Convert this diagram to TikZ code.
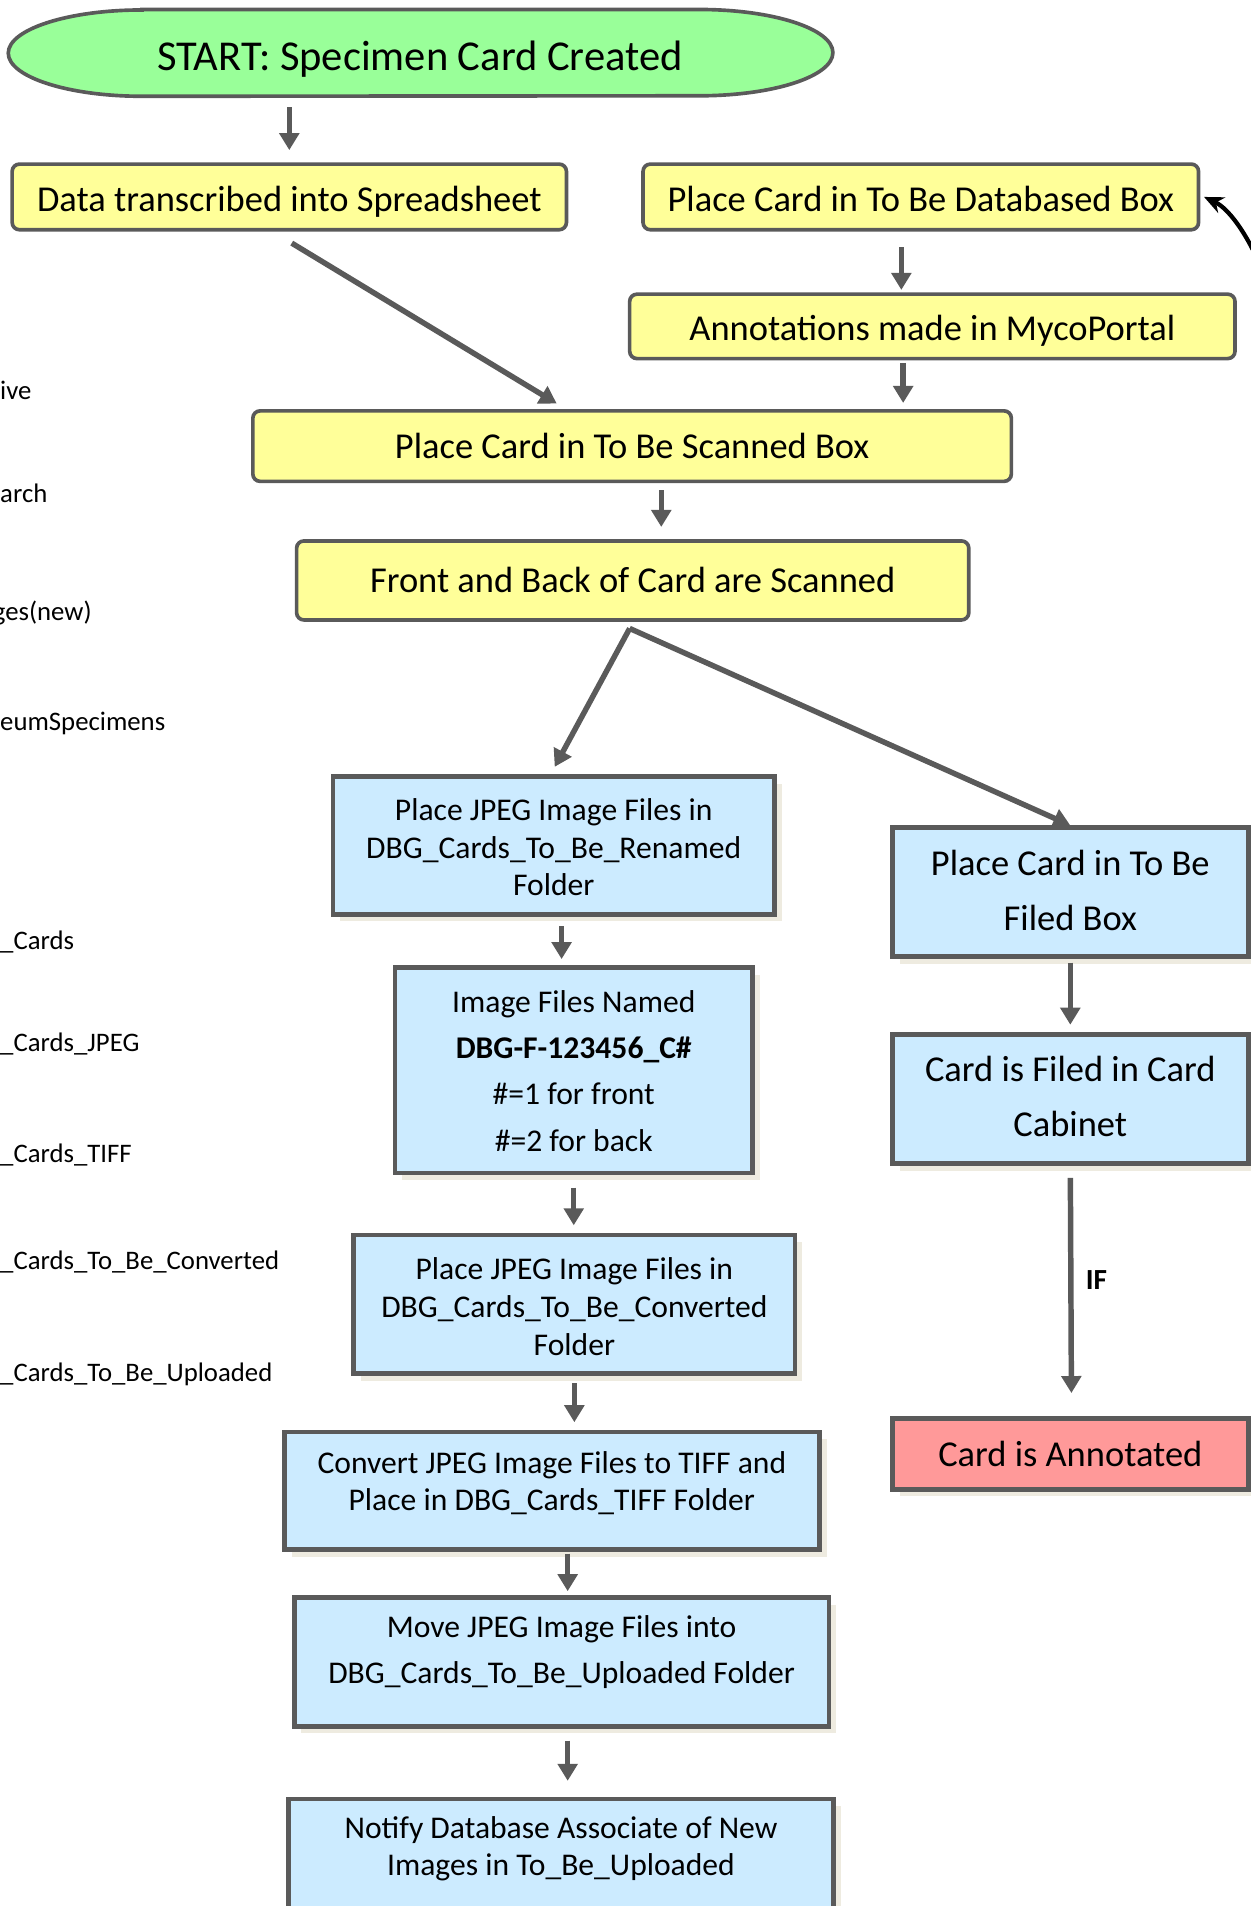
\documentclass[tikz,border=0pt]{standalone}
\usepackage{fontspec}
\setmainfont{Carlito}
\usetikzlibrary{arrows.meta,shadows,calc}
\definecolor{bord}{HTML}{5A5A5A}
\definecolor{yfill}{HTML}{FFFF99}
\definecolor{bfill}{HTML}{CCEBFF}
\definecolor{gfill}{HTML}{99FF99}
\definecolor{pfill}{HTML}{FF9999}
\definecolor{shad}{HTML}{EEEBE0}
\begin{document}
\begin{tikzpicture}[x=1pt,y=-1pt,
  ybox/.style={draw=bord,line width=3pt,fill=yfill,rounded corners=6pt,inner sep=0pt,
    font=\fontsize{30}{36}\selectfont},
  ylow/.style={text height=26pt,text depth=2pt},
  bbox/.style={draw=bord,line width=4pt,fill=bfill,inner sep=0pt,
    drop shadow={shadow xshift=6pt,shadow yshift=-6pt,fill=shad,opacity=1}},
  pbox/.style={bbox,fill=pfill,font=\fontsize{30}{36}\selectfont},
  btext/.style={inner sep=0pt,align=center,font=\fontsize{26}{31}\selectfont},
  btextw/.style={inner sep=0pt,align=center,font=\fontsize{26}{38}\selectfont},
  rtext/.style={inner sep=0pt,align=center,font=\fontsize{30}{45}\selectfont},
  lefttext/.style={inner sep=0pt,anchor=west,font=\fontsize{22}{26}\selectfont},
  arr/.style={draw=bord,line width=4.5pt,-{Triangle[length=14pt,width=16pt]}},
  carr/.style={draw=black,line width=3.5pt,-{Stealth[length=16pt,width=14pt]}}
]
\useasboundingbox (0,0) rectangle (1029,1568);
\clip (0,0) rectangle (1029,1568);

% left-edge fragments
\node[lefttext] (l1) at (0,321) {ive};
\node[lefttext] (l2) at (0,406) {arch};
\node[lefttext] (l3) at (-6,504) {ges(new)};
\node[lefttext] (l4) at (0,595) {eumSpecimens};
\node[lefttext] (l5) at (0,775) {\_Cards};
\node[lefttext] (l6) at (0,859) {\_Cards\_JPEG};
\node[lefttext] (l7) at (0,950) {\_Cards\_TIFF};
\node[lefttext] (l8) at (0,1038) {\_Cards\_To\_Be\_Converted};
\node[lefttext] (l9) at (0,1131) {\_Cards\_To\_Be\_Uploaded};

% start
\node[minimum width=678pt,minimum height=71pt,inner sep=0pt] (start) at (346,43.5) {};
\draw[draw=bord,line width=3pt,fill=gfill]
  ([xshift=110pt]start.north west) -- ([xshift=-110pt]start.north east)
  arc[start angle=90,end angle=-90,x radius=110pt,y radius=35.5pt]
  -- ([xshift=110pt]start.south west)
  arc[start angle=270,end angle=90,x radius=110pt,y radius=35.5pt] -- cycle;
\node[inner sep=0pt,font=\fontsize{35}{40}\selectfont] (tstart) at (345.5,49) {START: Specimen Card Created};

% yellow boxes
\node[ybox,ylow,minimum width=456pt,minimum height=54pt] (data) at (238,162) {Data transcribed into Spreadsheet};
\node[ybox,ylow,minimum width=457pt,minimum height=54pt] (db) at (757.5,162) {Place Card in To Be Databased Box};
\node[ybox,ylow,minimum width=498pt,minimum height=53pt] (anno) at (767,268.5) {Annotations made in MycoPortal};
\node[ybox,minimum width=624pt,minimum height=58pt] (scan) at (520,367) {Place Card in To Be Scanned Box};
\node[ybox,minimum width=553pt,minimum height=65pt] (front) at (520.5,477.5) {Front and Back of Card are Scanned};

% blue boxes (left column)
\node[bbox,minimum width=363pt,minimum height=113pt] (ren) at (455.5,695.5) {};
\node[btext] (tren) at (455.5,697) {Place JPEG Image Files in\\DBG\_Cards\_To\_Be\_Renamed\\Folder};
\node[bbox,minimum width=294pt,minimum height=169pt] (named) at (472,880.5) {};
\node[btextw] (tnamed) at (472,881) {Image Files Named\\\textbf{DBG-F-123456\_C\#}\\\#=1 for front\\\#=2 for back};
\node[bbox,minimum width=363pt,minimum height=114pt] (conv) at (472.5,1073) {};
\node[btext] (tconv) at (472.5,1075) {Place JPEG Image Files in\\DBG\_Cards\_To\_Be\_Converted\\Folder};
\node[bbox,minimum width=440pt,minimum height=97pt] (tiff) at (454,1226.5) {};
\node[btext] (ttiff) at (454,1220) {Convert JPEG Image Files to TIFF and\\Place in DBG\_Cards\_TIFF Folder};
\node[bbox,minimum width=440pt,minimum height=106pt] (move) at (462,1367) {};
\node[btextw] (tmove) at (462,1359) {Move JPEG Image Files into\\DBG\_Cards\_To\_Be\_Uploaded Folder};
\node[bbox,minimum width=449pt,minimum height=100pt] (notify) at (461.5,1530) {};
\node[btext] (tnotify) at (461.5,1521) {Notify Database Associate of New\\Images in To\_Be\_Uploaded};

% right column
\node[bbox,minimum width=293pt,minimum height=106pt] (filed) at (880.5,734) {};
\node[rtext] (tfiled) at (880.5,732.5) {Place Card in To Be\\Filed Box};
\node[bbox,minimum width=293pt,minimum height=106pt] (cabinet) at (880.5,904) {};
\node[rtext] (tcabinet) at (880.5,902) {Card is Filed in Card\\Cabinet};
\node[pbox,minimum width=293pt,minimum height=58pt] (annot) at (880.5,1196) {Card is Annotated};

% connectors
\draw[arr,shorten <=9pt,shorten >=10pt] (start.south -| data.north) -- (data.north);
\draw[arr,shorten <=13pt,shorten >=2pt] ([xshift=-16pt]db.south) -- ([xshift=-16pt]db.south |- anno.north);
\draw[arr,shorten <=2pt,shorten >=5pt] ([xshift=-24pt]anno.south) -- ([xshift=-24pt]anno.south |- scan.north);
\coordinate (d1) at (240,200);
\coordinate (d2) at (458,332);
\draw[arr] (d1) -- (d2);
\draw[arr,shorten <=6pt,shorten >=10pt] ([xshift=24pt]scan.south) -- ([xshift=24pt]scan.south |- front.north);
\coordinate (fs) at (518,517);
\draw[arr,shorten >=7pt] (fs) -- ([xshift=-2.5pt]ren.north);
\draw[arr] (fs) -- (filed.north);
\draw[arr,shorten <=8pt,shorten >=5pt] ([xshift=6.5pt]ren.south) -- ([xshift=6.5pt]ren.south |- named.north);
\draw[arr,shorten <=10pt,shorten >=6pt] (named.south) -- (named.south |- conv.north);
\draw[arr,shorten <=6pt,shorten >=6pt] (conv.south) -- (conv.south |- tiff.north);
\draw[arr,shorten <=1pt,shorten >=3pt] ([xshift=13pt]tiff.south) -- ([xshift=13pt]tiff.south |- move.north);
\draw[arr,shorten <=10pt,shorten >=13pt] ([xshift=5pt]move.south) -- ([xshift=5pt]move.south |- notify.north);
\draw[arr,shorten <=3pt,shorten >=6pt] (filed.south) -- (cabinet.north);
\draw[arr,shorten <=10pt,shorten >=19pt] (cabinet.south) -- ([xshift=1pt]annot.north);
\node[inner sep=0pt,font=\fontsize{24}{28}\selectfont\bfseries] (iflabel) at (902,1053) {IF};
\coordinate (cv) at (1042,232);
\draw[carr] (cv) .. controls (1030,198) and (1012,172) .. ([xshift=3pt]db.east);
\end{tikzpicture}
\end{document}
